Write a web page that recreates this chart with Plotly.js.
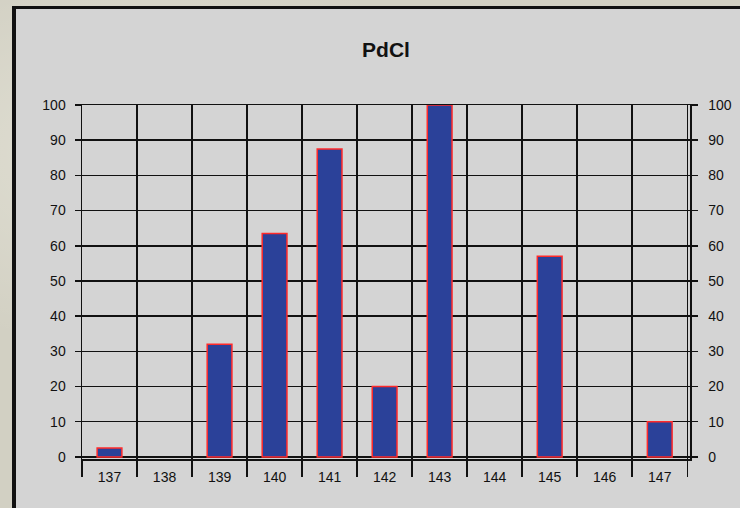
<!DOCTYPE html>
<html>
<head>
<meta charset="utf-8">
<script src="https://cdn.plot.ly/plotly-3.0.1.min.js"></script>
<style>
  html, body { margin: 0; padding: 0; width: 740px; height: 508px; overflow: hidden;
    background: #d2d0c3;
    background-image:
      radial-gradient(ellipse at 20% 30%, rgba(255,255,245,0.35), transparent 40%),
      radial-gradient(ellipse at 80% 70%, rgba(150,145,125,0.25), transparent 45%);
  }
  #chart { position: absolute; left: 12px; top: 6px; width: 724px; height: 499px;
    border-left: 4px solid #111; border-top: 3px solid #111; background: #d4d4d4; }
</style>
</head>
<body>
<div id="chart"></div>
<script>
const categories = ['137','138','139','140','141','142','143','144','145','146','147'];
const values = [2.5, null, 32, 63.5, 87.5, 20, 100, null, 57, null, 10];
const yTicks = [0,10,20,30,40,50,60,70,80,90,100];
const chartTitle = 'PdCl';

const fontFam = '"Liberation Sans", Arial, sans-serif';
const yRange = [-0.6, 100];

const traces = [
  {
    type: 'bar', x: categories, y: values, width: 0.45,
    marker: { color: '#2b4199', line: { color: '#ff2a2a', width: 1.5 } },
    hoverinfo: 'x+y', showlegend: false
  },
  {
    type: 'scatter', mode: 'markers', x: categories, y: values, yaxis: 'y2',
    marker: { opacity: 0 }, hoverinfo: 'skip', showlegend: false
  }
];

const axisY = {
  range: yRange, tickvals: yTicks, ticktext: yTicks.map(String),
  ticks: 'outside', ticklen: 6, tickwidth: 1.5, tickcolor: '#111',
  showgrid: true, gridcolor: '#111', gridwidth: 1.5,
  zeroline: true, zerolinecolor: '#111', zerolinewidth: 1.5,
  showline: true, linecolor: '#111', linewidth: 1.5,
  tickfont: { family: fontFam, size: 14, color: '#111' },
  ticklabelstandoff: 6, fixedrange: true
};

const layout = {
  width: 724, height: 499,
  margin: { l: 66, r: 50, t: 96, b: 49 },
  paper_bgcolor: '#d4d4d4', plot_bgcolor: '#d4d4d4',
  title: { text: '<b>' + chartTitle + '</b>', x: 0.5, xref: 'paper', y: 0.918, yref: 'container', yanchor: 'middle',
    font: { family: fontFam, size: 21, color: '#111' } },
  bargap: 0.55,
  xaxis: {
    type: 'category', range: [-0.5, 10.55], tickson: 'boundaries',
    ticks: 'outside', ticklen: 16, tickwidth: 1.5, tickcolor: '#111',
    showgrid: true, gridcolor: '#111', gridwidth: 1.5,
    showline: true, linecolor: '#111', linewidth: 1.5, mirror: true,
    tickfont: { family: fontFam, size: 14, color: '#111' },
    ticklabelstandoff: 5, fixedrange: true
  },
  yaxis: axisY,
  yaxis2: Object.assign({}, axisY, { overlaying: 'y', side: 'right', showgrid: false, zeroline: false, ticklabelstandoff: 8 }),
  showlegend: false
};

Plotly.newPlot('chart', traces, layout, { displayModeBar: false, staticPlot: true });
</script>
</body>
</html>
